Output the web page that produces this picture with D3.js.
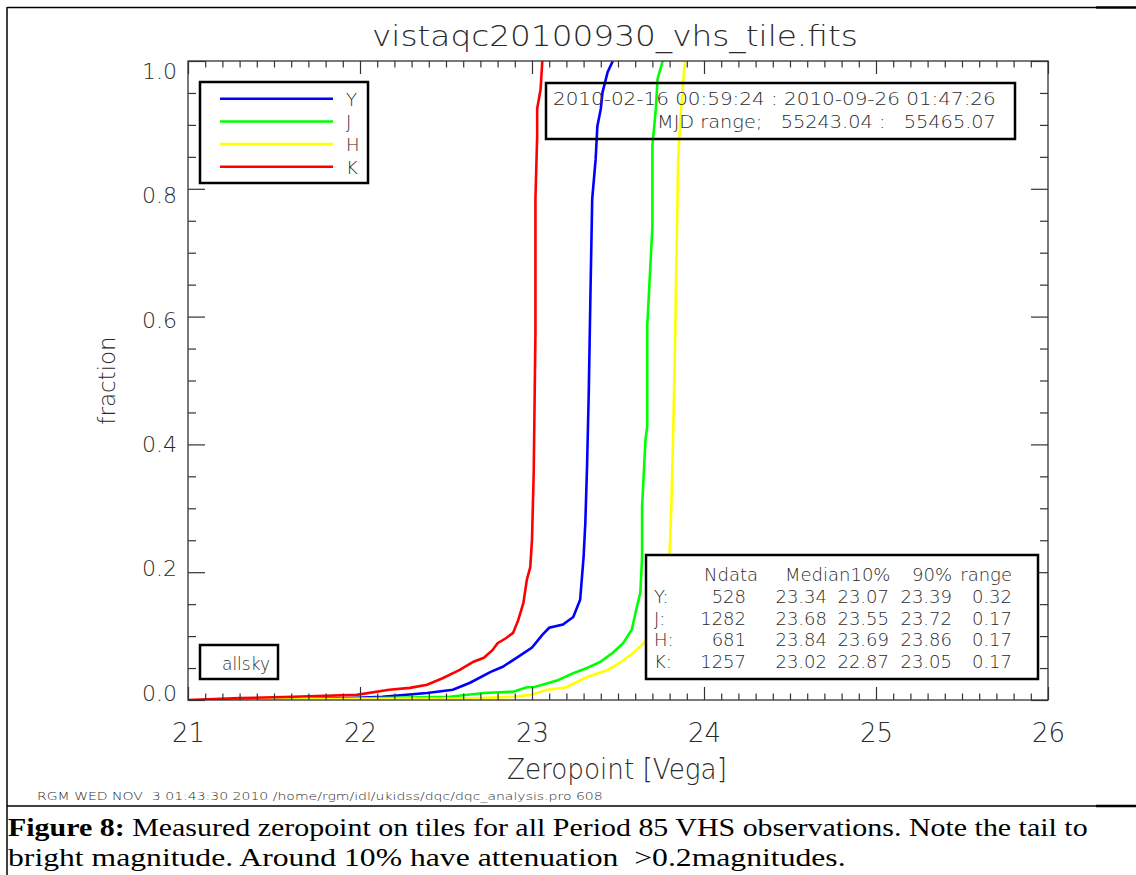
<!DOCTYPE html>
<html>
<head>
<meta charset="utf-8">
<script src="https://cdn.jsdelivr.net/npm/d3@7/dist/d3.min.js"></script>
<style>
  body { margin: 0; background: #fff; }
  .idl { font-family: "DejaVu Sans", sans-serif; font-weight: 200; fill: #2a2a2a; }
  .cap { font-family: "Liberation Serif", "Times New Roman", Tinos, serif; fill: #000; }
  .axis line { stroke: #333; stroke-width: 1.2; }
</style>
</head>
<body>
<div id="chart"></div>
<script>
// cumulative zeropoint distributions, [zeropoint, fraction]
const seriesY = [[21.5,0],[21.94,0.003],[22.13,0.005],[22.39,0.011],[22.54,0.016],[22.64,0.027],[22.76,0.044],
  [22.83,0.052],[22.91,0.066],[23.0,0.082],[23.06,0.102],[23.1,0.113],[23.18,0.118],[23.24,0.13],[23.28,0.157],
  [23.3,0.224],[23.31,0.277],[23.32,0.365],[23.33,0.481],[23.34,0.638],[23.35,0.784],[23.37,0.846],[23.38,0.898],
  [23.4,0.925],[23.41,0.951],[23.44,0.983],[23.47,1.0]];
const seriesJ = [[21.46,0],[22.52,0.005],[22.72,0.011],[22.89,0.013],[22.97,0.02],[23.01,0.02],[23.1,0.027],
  [23.15,0.031],[23.24,0.042],[23.32,0.05],[23.4,0.06],[23.47,0.074],[23.53,0.089],[23.58,0.11],[23.61,0.146],
  [23.63,0.168],[23.64,0.224],[23.64,0.302],[23.66,0.408],[23.67,0.428],[23.67,0.585],[23.7,0.741],[23.7,0.867],
  [23.72,0.925],[23.73,0.972],[23.76,1.0]];
const seriesH = [[21.3,0],[22.7,0.003],[22.89,0.005],[22.99,0.008],[23.09,0.016],[23.2,0.02],[23.32,0.036],
  [23.44,0.047],[23.51,0.058],[23.59,0.074],[23.65,0.089],[23.7,0.11],[23.76,0.136],[23.79,0.188],[23.8,0.23],
  [23.81,0.302],[23.82,0.408],[23.83,0.533],[23.84,0.69],[23.85,0.846],[23.86,0.898],[23.88,0.972],[23.89,1.0]];
const seriesK = [[21.0,0],[21.3,0.003],[21.61,0.005],[21.98,0.008],[22.17,0.016],[22.29,0.019],[22.39,0.024],
  [22.48,0.034],[22.58,0.047],[22.66,0.06],[22.72,0.066],[22.77,0.078],[22.8,0.089],[22.85,0.097],[22.89,0.105],
  [22.92,0.125],[22.95,0.152],[22.97,0.188],[22.99,0.208],[23.0,0.251],[23.01,0.356],[23.02,0.575],[23.02,0.784],
  [23.03,0.882],[23.03,0.925],[23.05,0.956],[23.06,1.0]];

const bands = ['Y', 'J', 'H', 'K'];
const bandColors = ['#0000ff', '#00ff00', '#ffff00', '#ff0000'];
const bandSeries = [seriesY, seriesJ, seriesH, seriesK];

// summary table
const statHeader = ['Ndata', 'Median10%', '90%', 'range'];
const nData = ['528', '1282', '681', '1257'];
const medians = ['23.34', '23.68', '23.84', '23.02'];
const p10 = ['23.07', '23.55', '23.69', '22.87'];
const p90 = ['23.39', '23.72', '23.86', '23.05'];
const ranges = ['0.32', '0.17', '0.17', '0.17'];

const xMajor = [21, 22, 23, 24, 25, 26];
const yMajor = [0, 0.2, 0.4, 0.6, 0.8, 1.0];

const title = 'vistaqc20100930_vhs_tile.fits';
const dateLine = '2010-02-16 00:59:24 : 2010-09-26 01:47:26';
const mjdLine = 'MJD range;   55243.04 :   55465.07';
const footer = 'RGM WED NOV  3 01:43:30 2010 /home/rgm/idl/ukidss/dqc/dqc_analysis.pro 608';
const captionBold = 'Figure 8:';
const captionRest = ' Measured zeropoint on tiles for all Period 85 VHS observations. Note the tail to';
const captionLine2 = 'bright magnitude. Around 10% have attenuation  >0.2magnitudes.';

const W = 1136, H = 875;
const plot = { left: 188, right: 1048, top: 61, bottom: 700 };

const svg = d3.select('#chart').append('svg')
  .attr('width', W).attr('height', H)
  .style('background', '#fff');

const x = d3.scaleLinear().domain([21, 26]).range([plot.left, plot.right]);
const y = d3.scaleLinear().domain([0, 1]).range([plot.bottom, plot.top]);
// y labels sit slightly inside the end ticks in the original
const yLabel = d3.scaleLinear().domain([0, 1]).range([693, 71.5]);

// squeeze a text element horizontally to a given width
function fitWidth(sel, x0, y0, width) {
  const w = sel.node().getComputedTextLength();
  sel.attr('x', 0).attr('y', 0)
    .attr('transform', `translate(${x0},${y0}) scale(${width / w},1)`);
}

// page frame
const frame = svg.append('g');
frame.append('line').attr('x1', 7).attr('y1', 7).attr('x2', 7).attr('y2', H).attr('stroke', '#000').attr('stroke-width', 1.5);
frame.append('line').attr('x1', 7).attr('y1', 7.5).attr('x2', 1096).attr('y2', 7.5).attr('stroke', '#000').attr('stroke-width', 1.5);
frame.append('line').attr('x1', 1096).attr('y1', 7.5).attr('x2', W).attr('y2', 7.5).attr('stroke', '#000').attr('stroke-width', 2.5);
frame.append('line').attr('x1', 7).attr('y1', 806).attr('x2', 1096).attr('y2', 806).attr('stroke', '#000').attr('stroke-width', 1.5);
frame.append('line').attr('x1', 1096).attr('y1', 806).attr('x2', W).attr('y2', 806).attr('stroke', '#000').attr('stroke-width', 2.5);

// title
fitWidth(svg.append('text').attr('class', 'idl').style('font-size', '28px').text(title), 372, 46, 486);

// curves
svg.append('clipPath').attr('id', 'plotclip').append('rect')
  .attr('x', plot.left).attr('y', plot.top)
  .attr('width', plot.right - plot.left).attr('height', plot.bottom - plot.top);

const line = d3.line().x(d => x(d[0])).y(d => y(d[1]));
const curves = svg.append('g').attr('clip-path', 'url(#plotclip)');
bandSeries.forEach((s, i) => {
  curves.append('path')
    .attr('d', line(s))
    .attr('fill', 'none')
    .attr('stroke', bandColors[i])
    .attr('stroke-width', 2.6);
});

// axes, IDL style: inward ticks on all four sides
const xMinor = d3.range(210, 261).map(v => v / 10).filter(v => !xMajor.includes(v));
const yMinor = d3.range(0, 21).map(v => v / 20).filter(v => !yMajor.some(m => Math.abs(m - v) < 1e-6));

function addAxis(axis, tx, ty, labels) {
  const g = svg.append('g').attr('class', 'axis').attr('transform', `translate(${tx},${ty})`).call(axis);
  g.select('.domain').remove();
  if (!labels) g.selectAll('text').remove();
  return g;
}

const xb = addAxis(d3.axisBottom(x).tickValues(xMajor).tickSize(-13).tickSizeOuter(0).tickPadding(24).tickFormat(d3.format('d')), 0, plot.bottom, true);
xb.selectAll('text').attr('class', 'idl').style('font-size', '26px').style('font-stretch', 'condensed');
addAxis(d3.axisBottom(x).tickValues(xMinor).tickSize(-6.5).tickSizeOuter(0), 0, plot.bottom, false);
addAxis(d3.axisTop(x).tickValues(xMajor).tickSize(-13).tickSizeOuter(0), 0, plot.top, false);
addAxis(d3.axisTop(x).tickValues(xMinor).tickSize(-6.5).tickSizeOuter(0), 0, plot.top, false);

const yl = addAxis(d3.axisLeft(y).tickValues(yMajor).tickSize(-17).tickSizeOuter(0).tickPadding(11).tickFormat(d3.format('.1f')), plot.left, 0, true);
yl.selectAll('text').attr('class', 'idl').style('font-size', '22px').style('font-stretch', 'condensed')
  .attr('y', d => yLabel(d) - y(d));
addAxis(d3.axisLeft(y).tickValues(yMinor).tickSize(-8).tickSizeOuter(0), plot.left, 0, false);
addAxis(d3.axisRight(y).tickValues(yMajor).tickSize(-17).tickSizeOuter(0), plot.right, 0, false);
addAxis(d3.axisRight(y).tickValues(yMinor).tickSize(-8).tickSizeOuter(0), plot.right, 0, false);

svg.selectAll('.axis .tick text').attr('fill', '#2a2a2a').attr('font-family', null);

// plot frame
svg.append('rect')
  .attr('x', plot.left).attr('y', plot.top)
  .attr('width', plot.right - plot.left).attr('height', plot.bottom - plot.top)
  .attr('fill', 'none').attr('stroke', '#333').attr('stroke-width', 1.3);

// axis titles
fitWidth(svg.append('text').attr('class', 'idl').style('font-size', '28px').text('Zeropoint [Vega]'), 507, 779, 220);
svg.append('text').attr('class', 'idl')
  .attr('transform', `translate(115,${(plot.top + plot.bottom) / 2}) rotate(-90)`)
  .attr('text-anchor', 'middle')
  .style('font-size', '23px').style('font-stretch', 'condensed')
  .text('fraction');

// legend
const legend = svg.append('g');
legend.append('rect').attr('x', 200).attr('y', 82).attr('width', 168).attr('height', 101)
  .attr('fill', '#fff').attr('stroke', '#000').attr('stroke-width', 2.5);
bands.forEach((b, i) => {
  const ly = 98.7 + i * 22.7;
  legend.append('line').attr('x1', 220).attr('x2', 333).attr('y1', ly).attr('y2', ly)
    .attr('stroke', bandColors[i]).attr('stroke-width', 2.5);
  legend.append('text').attr('class', 'idl').attr('x', 346).attr('y', ly + 7)
    .style('font-size', '18px').text(b);
});

// date range box
const dbox = svg.append('g');
dbox.append('rect').attr('x', 546).attr('y', 83).attr('width', 469).attr('height', 56)
  .attr('fill', 'none').attr('stroke', '#000').attr('stroke-width', 2.5);
fitWidth(dbox.append('text').attr('class', 'idl').style('font-size', '18px').style('white-space', 'pre').text(dateLine), 553, 105, 443);
fitWidth(dbox.append('text').attr('class', 'idl').style('font-size', '18px').style('white-space', 'pre').text(mjdLine), 657, 128, 339);

// stats table
const tbox = svg.append('g');
tbox.append('rect').attr('x', 646).attr('y', 555).attr('width', 392).attr('height', 124)
  .attr('fill', '#fff').attr('stroke', '#000').attr('stroke-width', 2.5);
const rowY = i => 581 + i * 21.75;
const headerPos = [[704, 'start'], [785, 'start'], [952, 'end'], [1012, 'end']];
statHeader.forEach((h, i) => {
  tbox.append('text').attr('class', 'idl').attr('x', headerPos[i][0]).attr('y', rowY(0))
    .attr('text-anchor', headerPos[i][1]).style('font-size', '18px').style('font-stretch', 'condensed').text(h);
});
const cols = [[nData, 746], [medians, 827], [p10, 889], [p90, 952], [ranges, 1012]];
bands.forEach((b, r) => {
  tbox.append('text').attr('class', 'idl').attr('x', 654).attr('y', rowY(r + 1))
    .style('font-size', '18px').style('font-stretch', 'condensed').text(b + ':');
  cols.forEach(([vals, cx]) => {
    tbox.append('text').attr('class', 'idl').attr('x', cx).attr('y', rowY(r + 1))
      .attr('text-anchor', 'end').style('font-size', '18px').style('font-stretch', 'condensed').text(vals[r]);
  });
});

// allsky box
svg.append('rect').attr('x', 200).attr('y', 645).attr('width', 78).attr('height', 34)
  .attr('fill', '#fff').attr('stroke', '#000').attr('stroke-width', 2.5);
svg.append('text').attr('class', 'idl').attr('x', 270).attr('y', 670).attr('text-anchor', 'end')
  .style('font-size', '17px').style('font-stretch', 'condensed').text('allsky');

// footer stamp
fitWidth(svg.append('text').attr('class', 'idl').style('font-size', '11px').style('white-space', 'pre').text(footer), 37, 800, 566);

// caption
const cap1 = svg.append('text').attr('class', 'cap').style('font-size', '26px');
cap1.append('tspan').attr('font-weight', 'bold').text(captionBold);
cap1.append('tspan').style('white-space', 'pre').text(captionRest);
fitWidth(cap1, 8, 836, 1080);
fitWidth(svg.append('text').attr('class', 'cap').style('font-size', '26px').style('white-space', 'pre').text(captionLine2), 8, 866, 838);
</script>
</body>
</html>
